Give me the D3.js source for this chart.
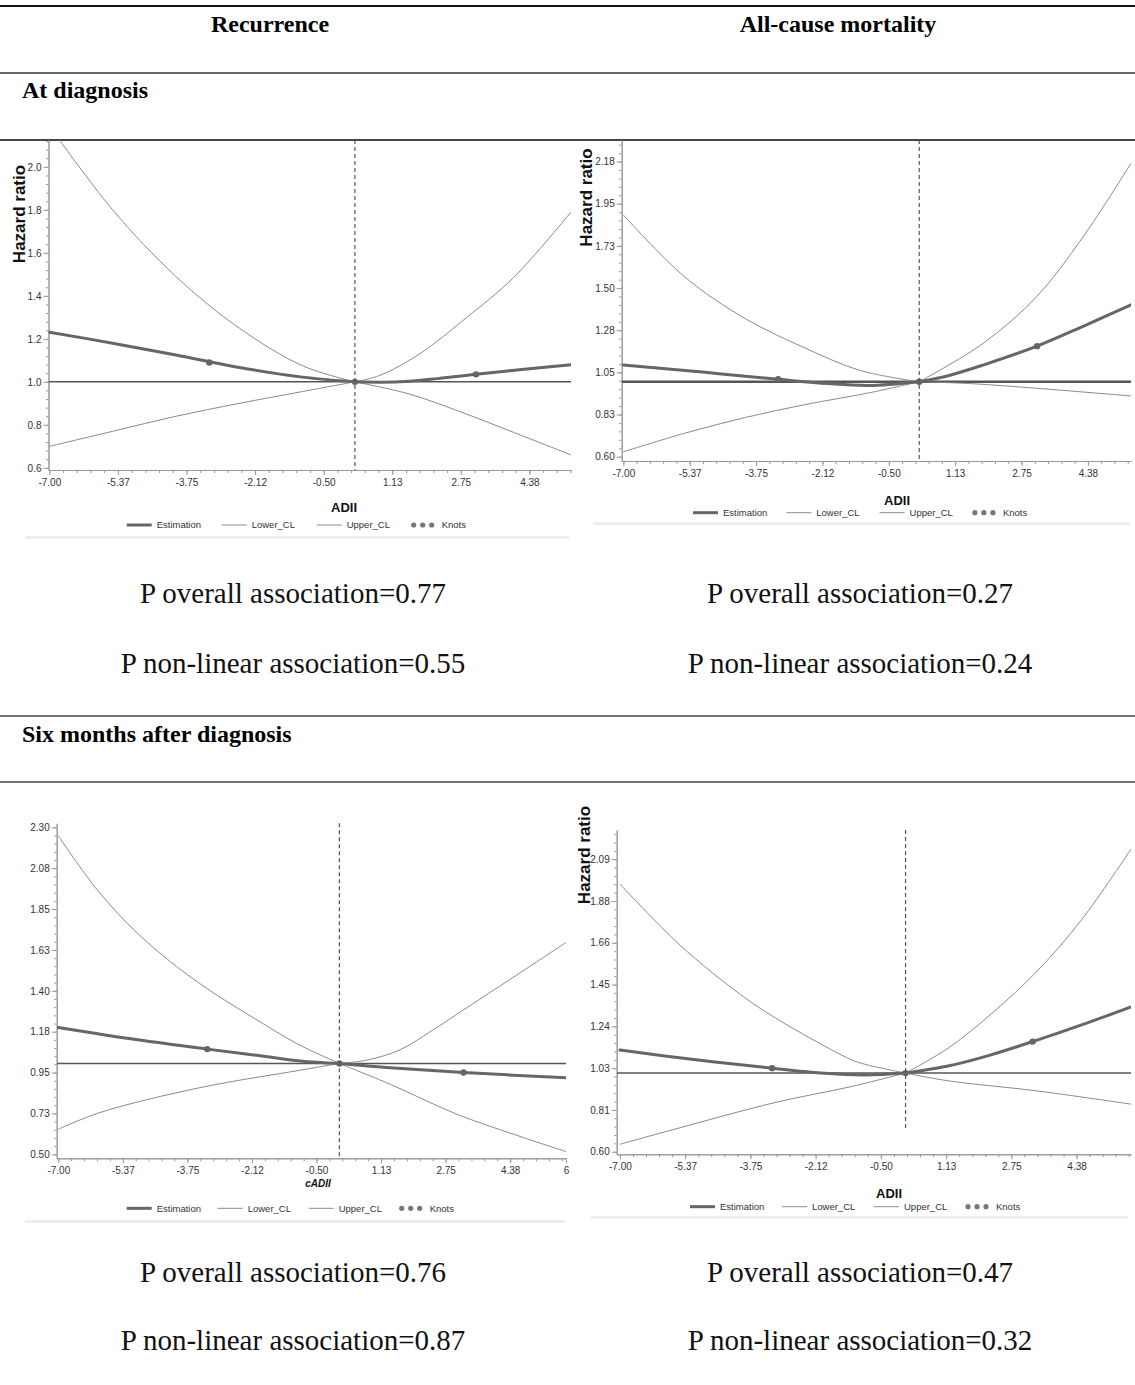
<!DOCTYPE html>
<html>
<head>
<meta charset="utf-8">
<script src="https://cdn.jsdelivr.net/npm/d3@7"></script>
<style>
body { margin: 0; background: #fff; }
.serif { font-family: "Liberation Serif", "Times New Roman", serif; }
.sans { font-family: "Liberation Sans", Arial, sans-serif; }
.axis path, .axis line { stroke: #999; }
.axis text { fill: #333; font-size: 10px; font-family: "Liberation Sans", Arial, sans-serif; }
</style>
</head>
<body>
<div class="chart"></div>
<script>
// shared x axis ticks (ADII)
const xTicks = [-7, -5.375, -3.75, -2.125, -0.5, 1.125, 2.75, 4.375];
const xTickLabels = ['-7.00', '-5.37', '-3.75', '-2.12', '-0.50', '1.13', '2.75', '4.38'];
const legendItems = ['Estimation', 'Lower_CL', 'Upper_CL', 'Knots'];

const columns = ['Recurrence', 'All-cause mortality'];
const sections = ['At diagnosis', 'Six months after diagnosis'];
const pOverall = ['0.77', '0.27', '0.76', '0.47'];
const pNonlinear = ['0.55', '0.24', '0.87', '0.32'];

// Recurrence, at diagnosis  [ADII, hazard ratio]
const recDiagEst = [[-7, 1.231], [-5.5, 1.18], [-4, 1.125], [-2.5, 1.067], [-1, 1.022], [0.24, 1.0],
    [1.3, 1.0], [2.2, 1.015], [3.11, 1.035], [4.2, 1.058], [5.36, 1.08]];
const recDiagLower = [[-7, 0.70], [-5.5, 0.77], [-4, 0.84], [-2.5, 0.90], [-1, 0.955], [0.24, 1.0],
    [1.5, 0.945], [2.75, 0.86], [4, 0.765], [5.36, 0.66]];
const recDiagUpper = [[-7, 2.19], [-5.5, 1.80], [-4, 1.49], [-2.5, 1.25], [-1, 1.075], [0.24, 1.0],
    [0.84, 1.031], [1.78, 1.131], [2.89, 1.30], [4.0, 1.485], [5.36, 1.79]];
const recDiagKnots = [[-3.21, 1.09], [0.24, 1.0], [3.11, 1.035]];
const recDiagYTicks = [0.6, 0.8, 1.0, 1.2, 1.4, 1.6, 1.8, 2.0];
const recDiagYLabels = ['0.6', '0.8', '1.0', '1.2', '1.4', '1.6', '1.8', '2.0'];

// All-cause mortality, at diagnosis
const mortDiagEst = [[-7, 1.089], [-5, 1.05], [-3.2, 1.013], [-2, 0.99], [-1, 0.98], [0.245, 1.0],
    [1.0, 1.035], [1.81, 1.089], [3.13, 1.19], [4.3, 1.30], [5.43, 1.41]];
const mortDiagLower = [[-7, 0.626], [-5.5, 0.725], [-4, 0.81], [-2.5, 0.88], [-1, 0.94], [0.245, 1.0],
    [1.5, 0.99], [3.12, 0.965], [5.43, 0.924]];
const mortDiagUpper = [[-7, 1.89], [-5.5, 1.56], [-4, 1.335], [-2.5, 1.175], [-1.2, 1.06], [0.245, 1.0],
    [1.81, 1.205], [3.12, 1.454], [4.26, 1.774], [5.43, 2.166]];
const mortDiagKnots = [[-3.21, 1.013], [0.245, 1.0], [3.13, 1.19]];
const mortDiagYTicks = [0.6, 0.825, 1.05, 1.275, 1.5, 1.725, 1.95, 2.175];
const mortDiagYLabels = ['0.60', '0.83', '1.05', '1.28', '1.50', '1.73', '1.95', '2.18'];

// Recurrence, six months after diagnosis
const recSixEst = [[-7, 1.198], [-5, 1.13], [-3.25, 1.079], [-2, 1.045], [-0.91, 1.014], [0.076, 1.0],
    [1.35, 0.977], [3.2, 0.95], [5.78, 0.922]];
const recSixLower = [[-7, 0.638], [-5.95, 0.73], [-3.43, 0.867], [-0.91, 0.963], [0.076, 1.0],
    [1.35, 0.886], [3.03, 0.721], [4.71, 0.592], [5.78, 0.515]];
const recSixUpper = [[-7, 2.253], [-6, 1.95], [-5, 1.715], [-4, 1.53], [-3, 1.375], [-2, 1.24], [-1, 1.11],
    [0.076, 1.0], [0.8, 1.02], [1.6, 1.075], [2.4, 1.18], [3.2, 1.295], [4.7, 1.51], [5.78, 1.666]];
const recSixKnots = [[-3.25, 1.079], [0.076, 1.0], [3.2, 0.95]];
const recSixYTicks = [0.5, 0.725, 0.95, 1.175, 1.4, 1.625, 1.85, 2.075, 2.3];
const recSixYLabels = ['0.50', '0.73', '0.95', '1.18', '1.40', '1.63', '1.85', '2.08', '2.30'];

// All-cause mortality, six months after diagnosis
const mortSixEst = [[-7, 1.117], [-5, 1.065], [-3.21, 1.025], [-2, 1.0], [-0.9, 0.99], [0.115, 1.0],
    [1.2, 1.037], [2.2, 1.09], [3.28, 1.16], [4.5, 1.245], [5.73, 1.337]];
const mortSixLower = [[-7, 0.638], [-5.63, 0.715], [-3.14, 0.85], [-1.27, 0.93], [0.115, 1.0],
    [1.2, 0.96], [3.36, 0.91], [5.73, 0.842]];
const mortSixUpper = [[-7, 1.961], [-5.5, 1.65], [-4, 1.40], [-3.14, 1.282], [-1.27, 1.071], [-0.9, 1.045],
    [0.115, 1.0], [1.2, 1.13], [2.3, 1.31], [3.4, 1.52], [4.5, 1.78], [5.73, 2.139]];
const mortSixKnots = [[-3.21, 1.025], [0.115, 1.0], [3.28, 1.16]];
const mortSixYTicks = [0.6, 0.8125, 1.025, 1.2375, 1.45, 1.6625, 1.875, 2.0875];
const mortSixYLabels = ['0.60', '0.81', '1.03', '1.24', '1.45', '1.66', '1.88', '2.09'];

const width = 1135, height = 1385;
const svg = d3.select('.chart').append('svg')
    .attr('width', width)
    .attr('height', height);

// table rules
const rules = [{y: 6, w: 2, c: '#111'}, {y: 73, w: 1.5, c: '#333'}, {y: 140, w: 2, c: '#444'},
    {y: 716, w: 1.5, c: '#444'}, {y: 782, w: 1.5, c: '#444'}];
svg.selectAll('.rule')
    .data(rules)
    .enter()
    .append('line')
    .attr('x1', 0).attr('x2', width)
    .attr('y1', d => d.y).attr('y2', d => d.y)
    .attr('stroke', d => d.c)
    .attr('stroke-width', d => d.w);

svg.selectAll('.colhead')
    .data(columns)
    .enter()
    .append('text')
    .attr('class', 'serif')
    .attr('x', (d, i) => i === 0 ? 270 : 838)
    .attr('y', 32)
    .attr('text-anchor', 'middle')
    .attr('font-size', 24)
    .attr('font-weight', 'bold')
    .text(d => d);

svg.selectAll('.sechead')
    .data(sections)
    .enter()
    .append('text')
    .attr('class', 'serif')
    .attr('x', 22)
    .attr('y', (d, i) => i === 0 ? 98 : 742)
    .attr('font-size', 24)
    .attr('font-weight', 'bold')
    .text(d => d);

const panels = [
    {id: 'a', est: recDiagEst, lower: recDiagLower, upper: recDiagUpper, knots: recDiagKnots,
     yTicks: recDiagYTicks, yLabels: recDiagYLabels,
     xDomain: [-7.02, 5.36], xRange: [48.5, 571], yDomain: [0.59, 2.125], yRange: [470, 140],
     cross: 0.24, dashEnd: null, refW: 1.5, legendY: 525, legendX: 126.7, legendStep: 95,
     xLabel: 'ADII', xLabelPos: [344, 512], italic: false, hr: [19, 214], band: [25, 570, 536],
     pX: 293, pY: [603, 673], endLabel: null},
    {id: 'b', est: mortDiagEst, lower: mortDiagLower, upper: mortDiagUpper, knots: mortDiagKnots,
     yTicks: mortDiagYTicks, yLabels: mortDiagYLabels,
     xDomain: [-7.04, 5.43], xRange: [621.7, 1131], yDomain: [0.577, 2.29], yRange: [461, 140],
     cross: 0.245, dashEnd: null, refW: 2.5, legendY: 512.7, legendX: 693, legendStep: 93.3,
     xLabel: 'ADII', xLabelPos: [897, 505], italic: false, hr: [586, 197.5], band: [593, 1130, 522],
     pX: 860, pY: [603, 673], endLabel: null},
    {id: 'c', est: recSixEst, lower: recSixLower, upper: recSixUpper, knots: recSixKnots,
     yTicks: recSixYTicks, yLabels: recSixYLabels,
     xDomain: [-7.04, 5.78], xRange: [56.7, 566], yDomain: [0.478, 2.322], yRange: [1158.3, 823.3],
     cross: 0.076, dashEnd: null, refW: 1.5, legendY: 1208.3, legendX: 126.7, legendStep: 91,
     xLabel: 'cADII', xLabelPos: [318, 1187], italic: true, hr: null, band: [25, 565, 1220],
     pX: 293, pY: [1282, 1350], endLabel: '6'},
    {id: 'd', est: mortSixEst, lower: mortSixLower, upper: mortSixUpper, knots: mortSixKnots,
     yTicks: mortSixYTicks, yLabels: mortSixYLabels,
     xDomain: [-7.08, 5.73], xRange: [616.7, 1131], yDomain: [0.587, 2.236], yRange: [1154.3, 830],
     cross: 0.115, dashEnd: 0.71, refW: 1.5, legendY: 1206.7, legendX: 690, legendStep: 92,
     xLabel: 'ADII', xLabelPos: [889, 1198], italic: false, hr: [584, 855], band: [590, 1128, 1216],
     pX: 860, pY: [1282, 1350], endLabel: null}
];

panels.forEach((p, pi) => {
    const xScale = d3.scaleLinear().domain(p.xDomain).range(p.xRange);
    const yScale = d3.scaleLinear().domain(p.yDomain).range(p.yRange);
    const g = svg.append('g');

    svg.append('clipPath')
        .attr('id', 'clip-' + p.id)
        .append('rect')
        .attr('x', p.xRange[0])
        .attr('y', p.yRange[1])
        .attr('width', p.xRange[1] - p.xRange[0])
        .attr('height', p.yRange[0] - p.yRange[1]);

    // minor ticks
    const yStep = (p.yTicks[1] - p.yTicks[0]) / 5;
    const yMinor = d3.range(p.yTicks[0] - 5 * yStep, p.yDomain[1], yStep)
        .filter(v => v >= p.yDomain[0] && v <= p.yDomain[1]);
    g.append('g')
        .attr('class', 'axis')
        .attr('transform', `translate(${p.xRange[0]},0)`)
        .call(d3.axisLeft(yScale).tickValues(yMinor).tickFormat('').tickSize(2.5).tickSizeOuter(0));
    const xStep = 1.625 / 5;
    const xMinor = d3.range(-7, p.xDomain[1], xStep);
    g.append('g')
        .attr('class', 'axis')
        .attr('transform', `translate(0,${p.yRange[0]})`)
        .call(d3.axisBottom(xScale).tickValues(xMinor).tickFormat('').tickSize(3).tickSizeOuter(0));

    // major axes
    g.append('g')
        .attr('class', 'axis')
        .attr('transform', `translate(${p.xRange[0]},0)`)
        .call(d3.axisLeft(yScale).tickValues(p.yTicks).tickFormat((d, i) => p.yLabels[i])
            .tickSize(5).tickPadding(2).tickSizeOuter(0));
    let xt = xTicks.slice(), xl = xTickLabels.slice();
    if (p.endLabel) { xt.push(p.xDomain[1]); xl.push(p.endLabel); }
    g.append('g')
        .attr('class', 'axis')
        .attr('transform', `translate(0,${p.yRange[0]})`)
        .call(d3.axisBottom(xScale).tickValues(xt).tickFormat((d, i) => xl[i])
            .tickSize(5).tickPadding(4).tickSizeOuter(0));

    const plot = g.append('g').attr('clip-path', `url(#clip-${p.id})`);

    // reference lines
    plot.append('line')
        .attr('x1', p.xRange[0]).attr('x2', p.xRange[1])
        .attr('y1', yScale(1)).attr('y2', yScale(1))
        .attr('stroke', '#555')
        .attr('stroke-width', p.refW);
    g.append('line')
        .attr('x1', xScale(p.cross)).attr('x2', xScale(p.cross))
        .attr('y1', p.yRange[1])
        .attr('y2', p.dashEnd === null ? p.yRange[0] : yScale(p.dashEnd))
        .attr('stroke', '#555')
        .attr('stroke-width', 1.2)
        .attr('stroke-dasharray', '4,3');

    // each curve is drawn as two smooth halves meeting at the reference point
    const line = d3.line()
        .x(d => xScale(d[0]))
        .y(d => yScale(d[1]))
        .curve(d3.curveCatmullRom.alpha(0.5));
    const halves = s => [s.filter(d => d[0] <= p.cross), s.filter(d => d[0] >= p.cross)];

    [p.lower, p.upper].forEach(s => {
        halves(s).forEach(h => plot.append('path')
            .attr('d', line(h))
            .attr('fill', 'none')
            .attr('stroke', '#8a8a8a')
            .attr('stroke-width', 1));
    });
    halves(p.est).forEach(h => plot.append('path')
        .attr('d', line(h))
        .attr('fill', 'none')
        .attr('stroke', '#666')
        .attr('stroke-width', 3)
        .attr('stroke-linecap', 'round'));
    plot.selectAll('circle')
        .data(p.knots)
        .enter()
        .append('circle')
        .attr('cx', d => xScale(d[0]))
        .attr('cy', d => yScale(d[1]))
        .attr('r', 3.2)
        .attr('fill', '#666');

    // axis titles
    g.append('text')
        .attr('class', 'sans')
        .attr('x', p.xLabelPos[0])
        .attr('y', p.xLabelPos[1])
        .attr('text-anchor', 'middle')
        .attr('font-size', p.italic ? 10 : 13)
        .attr('font-weight', 'bold')
        .attr('font-style', p.italic ? 'italic' : 'normal')
        .attr('fill', '#111')
        .text(p.xLabel);
    if (p.hr) {
        g.append('text')
            .attr('class', 'sans')
            .attr('transform', `translate(${p.hr[0]},${p.hr[1]}) rotate(-90)`)
            .attr('text-anchor', 'middle')
            .attr('dy', '0.35em')
            .attr('font-size', 17)
            .attr('font-weight', 'bold')
            .attr('fill', '#111')
            .text('Hazard ratio');
    }

    // legend
    const leg = g.append('g').attr('class', 'sans');
    legendItems.forEach((name, i) => {
        const lx = p.legendX + i * p.legendStep;
        if (i < 3) {
            leg.append('line')
                .attr('x1', lx).attr('x2', lx + 25)
                .attr('y1', p.legendY).attr('y2', p.legendY)
                .attr('stroke', i === 0 ? '#666' : '#8a8a8a')
                .attr('stroke-width', i === 0 ? 3 : 1);
        } else {
            [2, 11, 20].forEach(o => leg.append('circle')
                .attr('cx', lx + o).attr('cy', p.legendY).attr('r', 2.6).attr('fill', '#777'));
        }
        leg.append('text')
            .attr('x', lx + 30)
            .attr('y', p.legendY)
            .attr('dy', '0.35em')
            .attr('font-size', 9.5)
            .attr('fill', '#333')
            .text(name);
    });
    g.append('rect')
        .attr('x', p.band[0]).attr('y', p.band[2])
        .attr('width', p.band[1] - p.band[0]).attr('height', 3)
        .attr('fill', '#eeeeee');

    // p values
    g.append('text')
        .attr('class', 'serif')
        .attr('x', p.pX).attr('y', p.pY[0])
        .attr('text-anchor', 'middle')
        .attr('font-size', 29)
        .attr('fill', '#111')
        .text('P overall association=' + pOverall[pi]);
    g.append('text')
        .attr('class', 'serif')
        .attr('x', p.pX).attr('y', p.pY[1])
        .attr('text-anchor', 'middle')
        .attr('font-size', 29)
        .attr('fill', '#111')
        .text('P non-linear association=' + pNonlinear[pi]);
});
</script>
</body>
</html>
